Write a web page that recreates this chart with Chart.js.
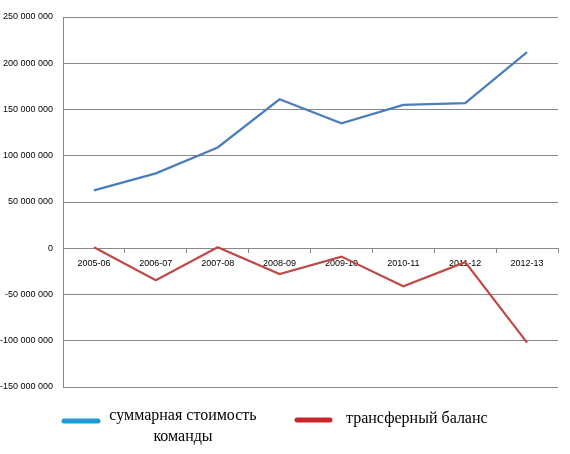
<!DOCTYPE html>
<html>
<head>
<meta charset="utf-8">
<script src="https://cdn.jsdelivr.net/npm/chart.js@4/dist/chart.umd.min.js"></script>
<style>
  html, body { margin: 0; padding: 0; background: #fff; }
  #box { position: relative; width: 570px; height: 454px; }
</style>
</head>
<body>
<div id="box"><canvas id="c"></canvas></div>
<script>
const categories = ["2005-06","2006-07","2007-08","2008-09","2009-10","2010-11","2011-12","2012-13"];
const teamValue = [62500000, 81000000, 109000000, 161000000, 135000000, 155000000, 157000000, 212000000];
const transferBalance = [1000000, -34500000, 1000000, -28000000, -9000000, -41000000, -15000000, -102000000];
const yMin = -150000000, yMax = 250000000, yStep = 50000000;
const legendLines = [["суммарная стоимость", "команды"], ["трансферный баланс"]];
const legendColors = ["#1f9ad6", "#c8262c"];

function fmt(v) {
  const s = Math.abs(v).toString().replace(/\B(?=(\d{3})+(?!\d))/g, " ");
  return (v < 0 ? "-" : "") + s;
}

const bottomLegend = {
  id: "bottomLegend",
  afterDraw(chart) {
    const ctx = chart.ctx;
    ctx.save();
    ctx.font = '16px "Liberation Serif", "DejaVu Serif", serif';
    ctx.fillStyle = "#000";
    ctx.textBaseline = "middle";
    ctx.textAlign = "center";
    ctx.lineCap = "round";
    ctx.lineWidth = 5;
    ctx.strokeStyle = legendColors[0];
    ctx.beginPath(); ctx.moveTo(64, 421); ctx.lineTo(98, 421); ctx.stroke();
    ctx.fillText(legendLines[0][0], 183, 416);
    ctx.fillText(legendLines[0][1], 183, 437);
    ctx.strokeStyle = legendColors[1];
    ctx.beginPath(); ctx.moveTo(297, 420); ctx.lineTo(330, 420); ctx.stroke();
    ctx.textAlign = "left";
    ctx.fillText(legendLines[1][0], 346, 419);
    ctx.restore();
  }
};

new Chart(document.getElementById("c"), {
  type: "line",
  data: {
    labels: categories,
    datasets: [
      { label: "суммарная стоимость команды", data: teamValue, borderColor: "#4a7ebb", borderWidth: 2.25, pointRadius: 0, tension: 0, fill: false },
      { label: "трансферный баланс", data: transferBalance, borderColor: "#be4b48", borderWidth: 2.25, pointRadius: 0, tension: 0, fill: false }
    ]
  },
  plugins: [bottomLegend],
  options: {
    responsive: true,
    maintainAspectRatio: false,
    animation: false,
    layout: { padding: { top: 17, right: 12, left: 0, bottom: 67 } },
    plugins: { legend: { display: false }, tooltip: { enabled: false } },
    scales: {
      x: {
        position: { y: 0 },
        offset: true,
        grid: { drawOnChartArea: false, drawTicks: true, tickLength: 4, offset: true, color: "#888" },
        border: { display: true, color: "#888", width: 1 },
        ticks: { color: "#000", font: { family: "Liberation Sans", size: 9 }, padding: 6, maxRotation: 0, autoSkip: false }
      },
      y: {
        min: yMin, max: yMax,
        afterFit: (s) => { s.width = 63; },
        grid: { color: "#888", lineWidth: 1, drawTicks: false },
        border: { display: true, color: "#888" },
        ticks: { stepSize: yStep, color: "#000", font: { family: "Liberation Sans", size: 9 }, padding: 10, callback: (v) => fmt(v) }
      }
    }
  }
});
</script>
</body>
</html>
